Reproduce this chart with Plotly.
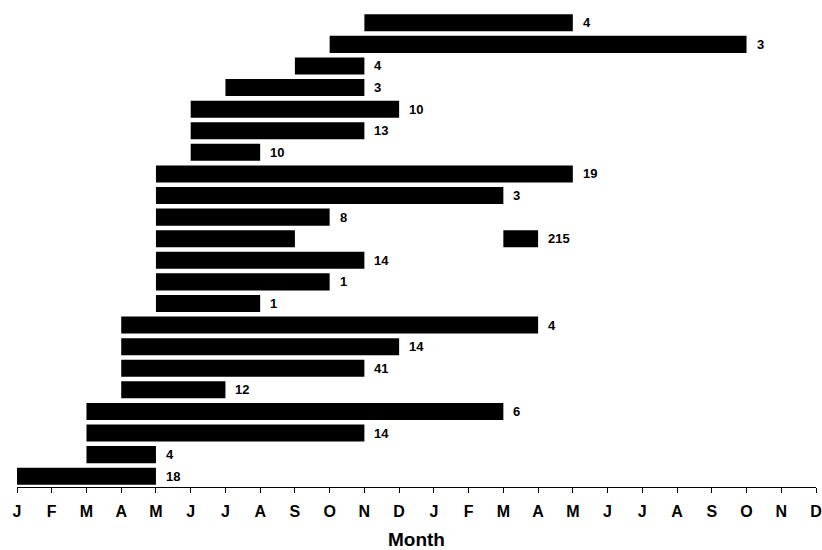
import plotly.graph_objects as go

months = ["J","F","M","A","M","J","J","A","S","O","N","D",
          "J","F","M","A","M","J","J","A","S","O","N","D"]
# rows from top to bottom; month index 0 = January of year 1
starts = [10, 9, 8, 6, 5, 5, 5, 4, 4, 4, 4, 4, 4, 4, 3, 3, 3, 3, 2, 2, 2, 0]
ends   = [16, 21, 10, 10, 11, 10, 7, 16, 14, 9, 8, 10, 9, 7, 15, 11, 10, 6, 14, 10, 4, 4]
labels = ["4","3","4","3","10","13","10","19","3","8","215","14","1","1",
          "4","14","41","12","6","14","4","18"]
# extra segment on the row labelled 215
extra_row = 10
extra_start = [14]
extra_end = [15]

n = len(starts)
ypos = [n - 1 - i for i in range(n)]

fig = go.Figure()
fig.add_trace(go.Bar(
    orientation="h", y=ypos, base=starts,
    x=[e - s for s, e in zip(starts, ends)],
    marker=dict(color="black", line=dict(width=0)), width=0.79,
    hoverinfo="skip", showlegend=False))
fig.add_trace(go.Bar(
    orientation="h", y=[ypos[extra_row]], base=extra_start,
    x=[e - s for s, e in zip(extra_start, extra_end)],
    marker=dict(color="black", line=dict(width=0)), width=0.79,
    hoverinfo="skip", showlegend=False))

label_end = list(ends)
label_end[extra_row] = extra_end[0]
for y, xe, t in zip(ypos, label_end, labels):
    fig.add_annotation(x=xe, y=y, text="<b>%s</b>" % t, showarrow=False,
                       xanchor="left", yanchor="middle", xshift=8,
                       font=dict(size=13, color="black", family="Liberation Sans, Arial"))

fig.update_layout(
    width=822, height=550, barmode="overlay",
    margin=dict(l=17, r=6, t=12, b=63, autoexpand=False),
    plot_bgcolor="white", paper_bgcolor="white",
    font=dict(family="Liberation Sans, Arial", color="black"),
    xaxis=dict(range=[0, 23], tickmode="array", tickvals=list(range(24)),
               ticktext=["<b>%s</b>" % m for m in months],
               ticks="outside", ticklen=5, tickwidth=1, tickcolor="black",
               ticklabelstandoff=5,
               showline=True, linecolor="black", linewidth=1,
               showgrid=False, zeroline=False, automargin=False,
               tickfont=dict(size=16), title=dict(text="<b>Month</b>", font=dict(size=19), standoff=16)),
    yaxis=dict(range=[-0.5, n - 0.5], visible=False, showgrid=False, zeroline=False,
               automargin=False),
)
# remove the page's default body margin so the figure fills the window exactly
fig.write_html("out.html", config={"displayModeBar": False},
               post_script="document.body.style.margin='0';document.body.style.overflow='hidden';")
